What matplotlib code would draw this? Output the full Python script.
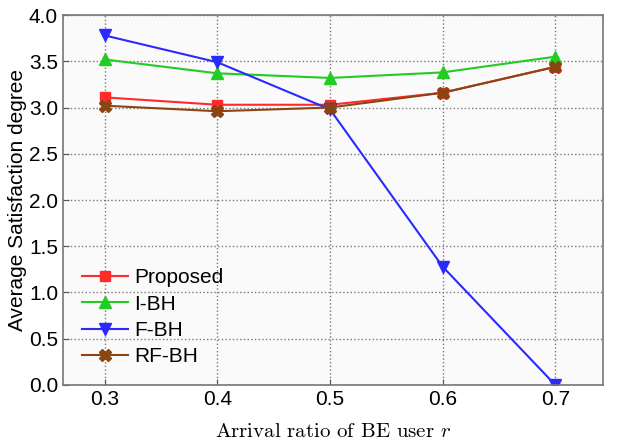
import matplotlib
matplotlib.use("Agg")
import matplotlib.pyplot as plt

# arrival ratio of BE users and average satisfaction per scheme
ratios = [0.3, 0.4, 0.5, 0.6, 0.7]
proposed = [3.11, 3.03, 3.03, 3.16, 3.44]
i_bh = [3.52, 3.37, 3.32, 3.38, 3.55]
f_bh = [3.78, 3.49, 2.98, 1.28, 0.0]
rf_bh = [3.02, 2.96, 3.00, 3.16, 3.44]

plt.rcParams['font.family'] = ['Liberation Sans', 'DejaVu Sans']
plt.rcParams['mathtext.fontset'] = 'cm'

fig = plt.figure(figsize=(6.26, 4.43), dpi=100)
ax = fig.add_axes([0.1006, 0.131, 0.862, 0.835])
ax.set_facecolor('#fafafa')

ax.plot(ratios, proposed, marker='s', color='#ff2a2a', linewidth=1.5, markersize=7, label='Proposed')
ax.plot(ratios, i_bh, marker='^', color='#22cc22', linewidth=1.5, markersize=9, label='I-BH')
ax.plot(ratios, f_bh, marker='v', color='#2a2aff', linewidth=1.5, markersize=9, label='F-BH')
ax.plot(ratios, rf_bh, marker='X', color='#8b4513', linewidth=1.5, markersize=8, label='RF-BH')

ax.set_xlim(0.263, 0.742)
ax.set_ylim(0, 4.0)
ax.set_xticks(ratios)
ax.set_yticks([0, 0.5, 1.0, 1.5, 2.0, 2.5, 3.0, 3.5, 4.0])
ax.set_yticklabels([f"{v:.1f}" for v in ax.get_yticks()])
ax.tick_params(labelsize=15, direction='in', length=4, color='#555555')
ax.grid(True, linestyle=':', color='#777777', linewidth=1)
for s in ax.spines.values():
    s.set_color('#777777')
    s.set_linewidth(1.2)

ax.set_ylabel('Average Satisfaction degree', fontsize=15, labelpad=1)
ax.set_xlabel(r'Arrival ratio of BE user $r$', fontsize=15, labelpad=10)
ax.xaxis.label.set_fontfamily(['cmr10', 'DejaVu Serif'])

leg = ax.legend(loc='lower left', fontsize=15, frameon=False, handlelength=2.2,
                handletextpad=0.3, labelspacing=0.35, borderaxespad=0.5)

fig.savefig('out.png', dpi=100)
